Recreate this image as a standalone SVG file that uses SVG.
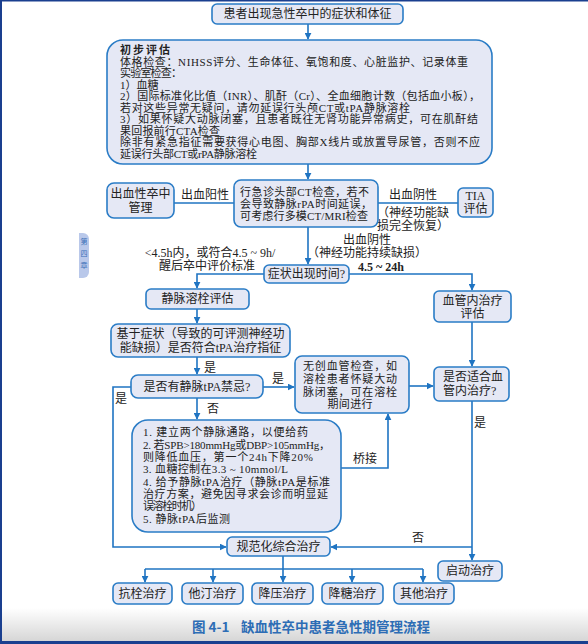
<svg xmlns="http://www.w3.org/2000/svg" width="588" height="644" viewBox="0 0 588 644">
<defs>
<marker id="ah" viewBox="0 0 10 10" refX="9" refY="5" markerWidth="7" markerHeight="7" markerUnits="userSpaceOnUse" orient="auto">
<path d="M0,0 L10,5 L0,10 z" fill="#1f74c2"/>
</marker>
<linearGradient id="bg" x1="0" y1="0" x2="0" y2="1">
<stop offset="0" stop-color="#ffffff"/>
<stop offset="1" stop-color="#d6d6d6"/>
</linearGradient>
<style>
.box{fill:#e5e8f5;stroke:#2a7cc6;stroke-width:1.6}
.ln{fill:none;stroke:#1f74c2;stroke-width:1.6}
.ar{fill:none;stroke:#1f74c2;stroke-width:1.6;marker-end:url(#ah)}
text{font-family:"Liberation Serif","Noto Sans CJK SC",serif;font-size:12px;fill:#222}
.s{font-size:11px}
.c{text-anchor:middle}
.b{font-weight:bold}
.cap{font-family:"Noto Sans CJK SC","Liberation Sans",sans-serif;font-size:13.5px;fill:#2d6db5;font-weight:bold}
.tab{font-family:"Noto Sans CJK SC",sans-serif;font-size:7px;fill:#3a6fb8}
</style>
</defs>
<rect width="588" height="644" fill="#ffffff"/>
<rect x="0" y="608" width="588" height="33" fill="url(#bg)"/>
<rect x="0" y="641" width="588" height="3" fill="#1a3f8f"/>
<rect x="0" y="0" width="588" height="1.5" fill="#1a3f8f"/>
<rect x="0" y="0" width="2" height="644" fill="#1a3f8f"/>
<g id="side-tab">
<path d="M79,233 h4 a6,6 0 0 1 6,6 v33 a6,6 0 0 1 -6,6 h-4 z" fill="#b9c8ea"/>
<text class="tab c" x="84" y="244">第</text>
<text class="tab c" x="84" y="256">四</text>
<text class="tab c" x="84" y="268">章</text>
</g>

<g id="connectors">
<line class="ar" x1="308" y1="24" x2="308" y2="39"/>
<line class="ar" x1="308" y1="164" x2="308" y2="179"/>
<line class="ln" x1="234" y1="203" x2="174" y2="203"/>
<line class="ln" x1="378" y1="203" x2="458" y2="203"/>
<line class="ar" x1="308" y1="227" x2="308" y2="264"/>
<polyline class="ar" points="264,274 197,274 197,288"/>
<polyline class="ar" points="349,274 472,274 472,290"/>
<line class="ar" x1="197" y1="309" x2="197" y2="323"/>
<line class="ar" x1="197" y1="357" x2="197" y2="374"/>
<line class="ar" x1="263" y1="387" x2="294" y2="387"/>
<line class="ar" x1="409" y1="386" x2="433" y2="386"/>
<line class="ar" x1="472" y1="322" x2="472" y2="366"/>
<polyline class="ar" points="472,401 472,560"/>
<polyline class="ar" points="472,547 331,547"/>
<polyline class="ar" points="131,387 113,387 113,547 226,547"/>
<line class="ar" x1="197" y1="398" x2="197" y2="419"/>
<polyline class="ar" points="341,468 388,468 388,414"/>
<line class="ln" x1="283" y1="556" x2="283" y2="569"/>
<line class="ln" x1="145" y1="569" x2="423" y2="569"/>
<line class="ar" x1="145" y1="569" x2="145" y2="582"/>
<line class="ar" x1="213" y1="569" x2="213" y2="582"/>
<line class="ar" x1="283" y1="569" x2="283" y2="582"/>
<line class="ar" x1="352" y1="569" x2="352" y2="582"/>
<line class="ar" x1="423" y1="569" x2="423" y2="582"/>
<text class="c" x="205" y="199">出血阳性</text>
<text class="c" x="413" y="199">出血阴性</text>
<text class="c" x="413" y="217">（神经功能缺</text>
<text class="c" x="413" y="230">损完全恢复）</text>
<text class="c" x="367" y="244">出血阴性</text>
<text class="c" x="367" y="257">（神经功能持续缺损）</text>
<text class="c" x="210" y="257">&lt;4.5h内，或符合4.5 ~ 9h/</text>
<text class="c" x="207" y="270">醒后卒中评价标准</text>
<text class="c b" x="381" y="271">4.5 ~ 24h</text>
<text class="c" x="210" y="372">是</text>
<text class="c" x="278" y="383">是</text>
<text class="c" x="121" y="403">是</text>
<text class="c" x="213" y="413">否</text>
<text class="c" x="480" y="427">是</text>
<text class="c" x="418" y="542">否</text>
<text class="c" x="365" y="463">桥接</text>
</g>

<g id="n-start"><rect class="box" x="212" y="4" width="191" height="20" rx="5"/><text class="c" x="307.5" y="18">患者出现急性卒中的症状和体征</text></g>

<g id="n-initial"><rect class="box" x="107" y="40" width="385" height="124" rx="16"/>
<text x="120" y="54" class="s b" textLength="50">初步评估</text>
<text x="120" y="65.5" class="s" textLength="348">体格检查：NIHSS评分、生命体征、氧饱和度、心脏监护、记录体重</text>
<text x="120" y="77" class="s" textLength="62">实验室检查：</text>
<text x="120" y="88.5" class="s">1）血糖</text>
<text x="120" y="100" class="s" textLength="360">2）国际标准化比值（INR）、肌酐（Cr）、全血细胞计数（包括血小板），</text>
<text x="120" y="111.5" class="s" textLength="290">若对这些异常无疑问，请勿延误行头颅CT或tPA静脉溶栓</text>
<text x="120" y="123" class="s" textLength="358">3）如果怀疑大动脉闭塞，且患者既往无肾功能异常病史，可在肌酐结</text>
<text x="120" y="134.5" class="s" textLength="100">果回报前行CTA检查</text>
<text x="120" y="146" class="s" textLength="360">除非有紧急指征需要获得心电图、胸部X线片或放置导尿管，否则不应</text>
<text x="120" y="157.5" class="s" textLength="137">延误行头部CT或rPA静脉溶栓</text>
</g>

<g id="n-hem"><rect class="box" x="107" y="183" width="67" height="35" rx="7"/><text class="c" x="140.5" y="198">出血性卒中</text><text class="c" x="140.5" y="212">管理</text></g>

<g id="n-ct"><rect class="box" x="234" y="180" width="144" height="47" rx="7"/>
<text x="240" y="196" class="s" textLength="129">行急诊头部CT检查，若不</text>
<text x="240" y="208" class="s" textLength="132">会导致静脉rPA时间延误，</text>
<text x="240" y="220" class="s" textLength="128">可考虑行多模CT/MRI检查</text></g>

<g id="n-tia"><rect class="box" x="458" y="188" width="35" height="29" rx="5"/><text class="c" x="475.5" y="200">TIA</text><text class="c" x="475.5" y="213">评估</text></g>

<g id="n-time"><rect class="box" x="264" y="265" width="85" height="18" rx="5"/><text class="c" x="306.5" y="278">症状出现时间?</text></g>

<g id="n-ivt"><rect class="box" x="146" y="289" width="103" height="20" rx="5"/><text class="c" x="197.5" y="303">静脉溶栓评估</text></g>

<g id="n-evt"><rect class="box" x="434" y="291" width="77" height="31" rx="5"/><text class="c" x="472.5" y="305">血管内治疗</text><text class="c" x="472.5" y="318">评估</text></g>

<g id="n-sym"><rect class="box" x="111" y="324" width="179" height="33" rx="7"/><text class="c" x="200.5" y="338">基于症状（导致的可评测神经功</text><text class="c" x="200.5" y="352">能缺损）是否符合tPA治疗指征</text></g>

<g id="n-contra"><rect class="box" x="131" y="375" width="132" height="23" rx="7"/><text class="c" x="197" y="391">是否有静脉tPA禁忌?</text></g>

<g id="n-noninv"><rect class="box" x="295" y="356" width="114" height="57" rx="7"/>
<text x="303" y="370" class="s" textLength="94">无创血管检查，如</text>
<text x="303" y="383" class="s" textLength="94">溶栓患者怀疑大动</text>
<text x="303" y="396" class="s" textLength="94">脉闭塞，可在溶栓</text>
<text class="c s" x="350" y="408" textLength="45">期间进行</text></g>

<g id="n-suit"><rect class="box" x="434" y="367" width="75" height="34" rx="5"/><text x="443" y="381">是否适合血</text><text x="443" y="395">管内治疗?</text></g>

<g id="n-treat"><rect class="box" x="132" y="420" width="209" height="112" rx="16"/>
<text x="143" y="436" class="s" textLength="165">1. 建立两个静脉通路，以便给药</text>
<text x="143" y="448.5" class="s" textLength="187">2. 若SPB&gt;180mmHg或DBP&gt;105mmHg，</text>
<text x="143" y="461" class="s" textLength="170">则降低血压，第一个24h下降20%</text>
<text x="143" y="473" class="s" textLength="145">3. 血糖控制在3.3 ~ 10mmol/L</text>
<text x="143" y="485.5" class="s" textLength="187">4. 给予静脉tPA治疗（静脉tPA是标准</text>
<text x="143" y="498" class="s" textLength="185">治疗方案，避免因寻求会诊而明显延</text>
<text x="143" y="510" class="s" textLength="59">误溶栓时机）</text>
<text x="143" y="522.5" class="s" textLength="87">5. 静脉tPA后监测</text></g>

<g id="n-std"><rect class="box" x="227" y="537" width="103" height="19" rx="5"/><text class="c" x="278.5" y="551">规范化综合治疗</text></g>

<g id="n-start-tx"><rect class="box" x="438" y="561" width="64" height="20" rx="5"/><text class="c" x="470" y="575">启动治疗</text></g>

<g id="n-anti"><rect class="box" x="113" y="583" width="59" height="21" rx="5"/><text class="c" x="142.5" y="598">抗栓治疗</text></g>
<g id="n-statin"><rect class="box" x="182" y="583" width="61" height="21" rx="5"/><text class="c" x="212.5" y="598">他汀治疗</text></g>
<g id="n-bp"><rect class="box" x="252" y="583" width="61" height="21" rx="5"/><text class="c" x="282.5" y="598">降压治疗</text></g>
<g id="n-glu"><rect class="box" x="322" y="583" width="61" height="21" rx="5"/><text class="c" x="352.5" y="598">降糖治疗</text></g>
<g id="n-other"><rect class="box" x="394" y="583" width="60" height="21" rx="5"/><text class="c" x="424" y="598">其他治疗</text></g>

<g id="caption">
<text class="cap" x="192" y="632">图 4-1</text>
<text class="cap" x="241" y="632">缺血性卒中患者急性期管理流程</text>
</g>
</svg>
